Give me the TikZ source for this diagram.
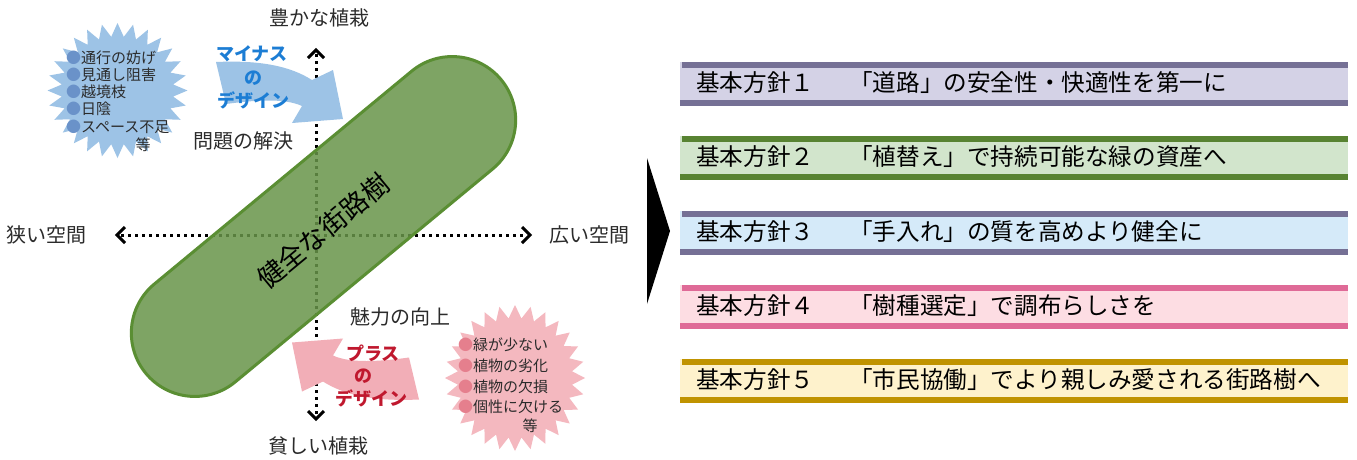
\documentclass[tikz,border=0pt]{standalone}
\usepackage{fontspec}
\newfontfamily\jp{Noto Sans CJK JP}
\usetikzlibrary{arrows.meta,shapes.misc,calc}
\definecolor{labelgray}{HTML}{2B2B2B}
\definecolor{pillfill}{HTML}{68954A}
\definecolor{pilldraw}{HTML}{5A8E33}
\definecolor{starblue}{HTML}{9DC3E6}
\definecolor{starpink}{HTML}{F4B8BF}
\definecolor{bulletblue}{HTML}{6A92C9}
\definecolor{bulletpink}{HTML}{E57F8D}
\definecolor{arrowblue}{HTML}{9DC3E6}
\definecolor{arrowpink}{HTML}{F2AEB7}
\definecolor{textblue}{HTML}{1C7DD4}
\definecolor{textred}{HTML}{C0182E}
\definecolor{barA}{HTML}{757095}
\definecolor{fillA}{HTML}{D4D2E6}
\definecolor{barB}{HTML}{588332}
\definecolor{fillB}{HTML}{D2E5CC}
\definecolor{fillC}{HTML}{D5EAF9}
\definecolor{barD}{HTML}{DF6A97}
\definecolor{fillD}{HTML}{FDDDE3}
\definecolor{barE}{HTML}{C09300}
\definecolor{fillE}{HTML}{FEF2CC}
\newcommand\mypolicy[6]{%
  \fill[#4] (680,#2) rectangle (1348,#2+43);
  \fill[#3] (682,#2) rectangle (1348,#2+5.5);
  \fill[#3] (680,#2+38) rectangle (1348,#2+43.5);
  \node[boxtxt,anchor=west] (#1a) at (696,#2+21) {基本方針#5};
  \node[boxtxt,anchor=west] (#1b) at (849,#2+21) {#6};
}
\begin{document}
\begin{tikzpicture}[x=1pt,y=-1pt,
  lbl/.style={font=\jp\fontsize{20}{24}\selectfont,text=labelgray,inner sep=0},
  listtxt/.style={font=\jp\fontsize{15}{18}\selectfont,text=labelgray,inner sep=0,anchor=west},
  arrtxtb/.style={font=\jp\bfseries\fontsize{18}{22}\selectfont,text=textblue,inner sep=0},
  arrtxtr/.style={font=\jp\bfseries\fontsize{18}{22}\selectfont,text=textred,inner sep=0},
  boxtxt/.style={font=\jp\fontsize{23.6}{28}\selectfont,text=black,inner sep=0},
  axis/.style={line width=3pt,dash pattern=on 3pt off 4pt},
  chev/.style={line width=3pt,line join=miter,line cap=butt}
]
\useasboundingbox (0,0) rectangle (1357,459);
\fill[white] (0,0) rectangle (1357,459);

% axes
\coordinate (top) at (316,50);
\coordinate (bot) at (316,419);
\coordinate (lft) at (117,235);
\coordinate (rgt) at (530,235);
\draw[axis] ($(top)+(0,4)$) -- ($(bot)+(0,-4)$);
\draw[axis] ($(lft)+(4,0)$) -- ($(rgt)+(-4,0)$);
\draw[chev] (top) ++(-8,8) -- (top) -- ++(8,8);
\draw[chev] (bot) ++(-8,-8) -- (bot) -- ++(8,-8);
\draw[chev] (lft) ++(8,-8) -- (lft) -- ++(8,8);
\draw[chev] (rgt) ++(-8,-8) -- (rgt) -- ++(-8,8);

% pill
\node[rounded rectangle,draw=pilldraw,line width=3pt,fill=pillfill,fill opacity=0.85,
  minimum width=461pt,minimum height=127pt,rotate=39.6,inner sep=0] (pill) at (323.5,226.5) {};
\node[font=\jp\fontsize{27}{30}\selectfont,rotate=39.6,inner sep=0,text=black] (pilltxt) at (323,231) {健全な街路樹};

% axis labels
\node[lbl] (rich) at (319,18) {豊かな植栽};
\node[lbl] (poor) at (318,446) {貧しい植栽};
\node[lbl] (narrow) at (46,235) {狭い空間};
\node[lbl] (wide) at (589,235) {広い空間};
\node[lbl] (solve) at (243,141) {問題の解決};
\node[lbl] (charm) at (400,317) {魅力の向上};

% blue starburst
\fill[starblue] (187.5,90.5) \foreach \i [evaluate=\i as \r using {ifthenelse(mod(\i,2)==0,1,0.8)}, evaluate=\i as \a using {\i*6.4285714}] in {1,...,55} { -- ({117.5+70*\r*cos(\a)},{90.5+67.5*\r*sin(\a)}) } -- cycle;
\node[listtxt] (m1) at (66,58) {{\color{bulletblue}●}通行の妨げ};
\node[listtxt] (m2) at (66,75) {{\color{bulletblue}●}見通し阻害};
\node[listtxt] (m3) at (66,92) {{\color{bulletblue}●}越境枝};
\node[listtxt] (m4) at (66,109) {{\color{bulletblue}●}日陰};
\node[listtxt] (m5) at (66,127) {{\color{bulletblue}●}スペース不足};
\node[listtxt,anchor=center] (m6) at (143,145) {等};

% pink starburst
\fill[starpink] (585,378) \foreach \i [evaluate=\i as \r using {ifthenelse(mod(\i,2)==0,1,0.82)}, evaluate=\i as \a using {\i*6.4285714}] in {1,...,55} { -- ({515+70*\r*cos(\a)},{378+73*\r*sin(\a)}) } -- cycle;
\node[listtxt] (p1) at (458,345) {{\color{bulletpink}●}緑が少ない};
\node[listtxt] (p2) at (458,366) {{\color{bulletpink}●}植物の劣化};
\node[listtxt] (p3) at (458,387) {{\color{bulletpink}●}植物の欠損};
\node[listtxt] (p4) at (458,407) {{\color{bulletpink}●}個性に欠ける};
\node[listtxt,anchor=center] (p5) at (530,426) {等};

% curved arrows
\def\curvedarrow{(-63.5,-30.5) .. controls (-19.5,-32.5) and (10.5,-26.5) .. (32.5,-12.5) -- (53.5,-22.5) -- (63.5,26.5) -- (12.5,30.5) -- (22.5,13.5) .. controls (5.5,5.5) and (-24.5,7.5) .. (-53.5,11.5) -- cycle}
\begin{scope}[shift={(279.5,92.5)}]
  \fill[arrowblue] \curvedarrow;
\end{scope}
\begin{scope}[shift={(355.5,369)},rotate=180]
  \fill[arrowpink] \curvedarrow;
\end{scope}
\node[arrtxtb] (mi1) at (252,54) {マイナス};
\node[arrtxtb] (mi2) at (253,78) {の};
\node[arrtxtb] (mi3) at (253,100) {デザイン};
\node[arrtxtr] (pl1) at (373,353) {プラス};
\node[arrtxtr] (pl2) at (363,376) {の};
\node[arrtxtr] (pl3) at (371,398) {デザイン};

% big black arrow
\fill[black] (647,158) -- (670,231) -- (647,304) -- cycle;
\coordinate (bigarrow) at (658,231);

% policies
\mypolicy{b1}{62}{barA}{fillA}{１}{「道路」の安全性・快適性を第一に}
\mypolicy{b2}{136}{barB}{fillB}{２}{「植替え」で持続可能な緑の資産へ}
\mypolicy{b3}{211}{barA}{fillC}{３}{「手入れ」の質を高めより健全に}
\mypolicy{b4}{285}{barD}{fillD}{４}{「樹種選定」で調布らしさを}
\mypolicy{b5}{359}{barE}{fillE}{５}{「市民協働」でより親しみ愛される街路樹へ}
\end{tikzpicture}
\end{document}
